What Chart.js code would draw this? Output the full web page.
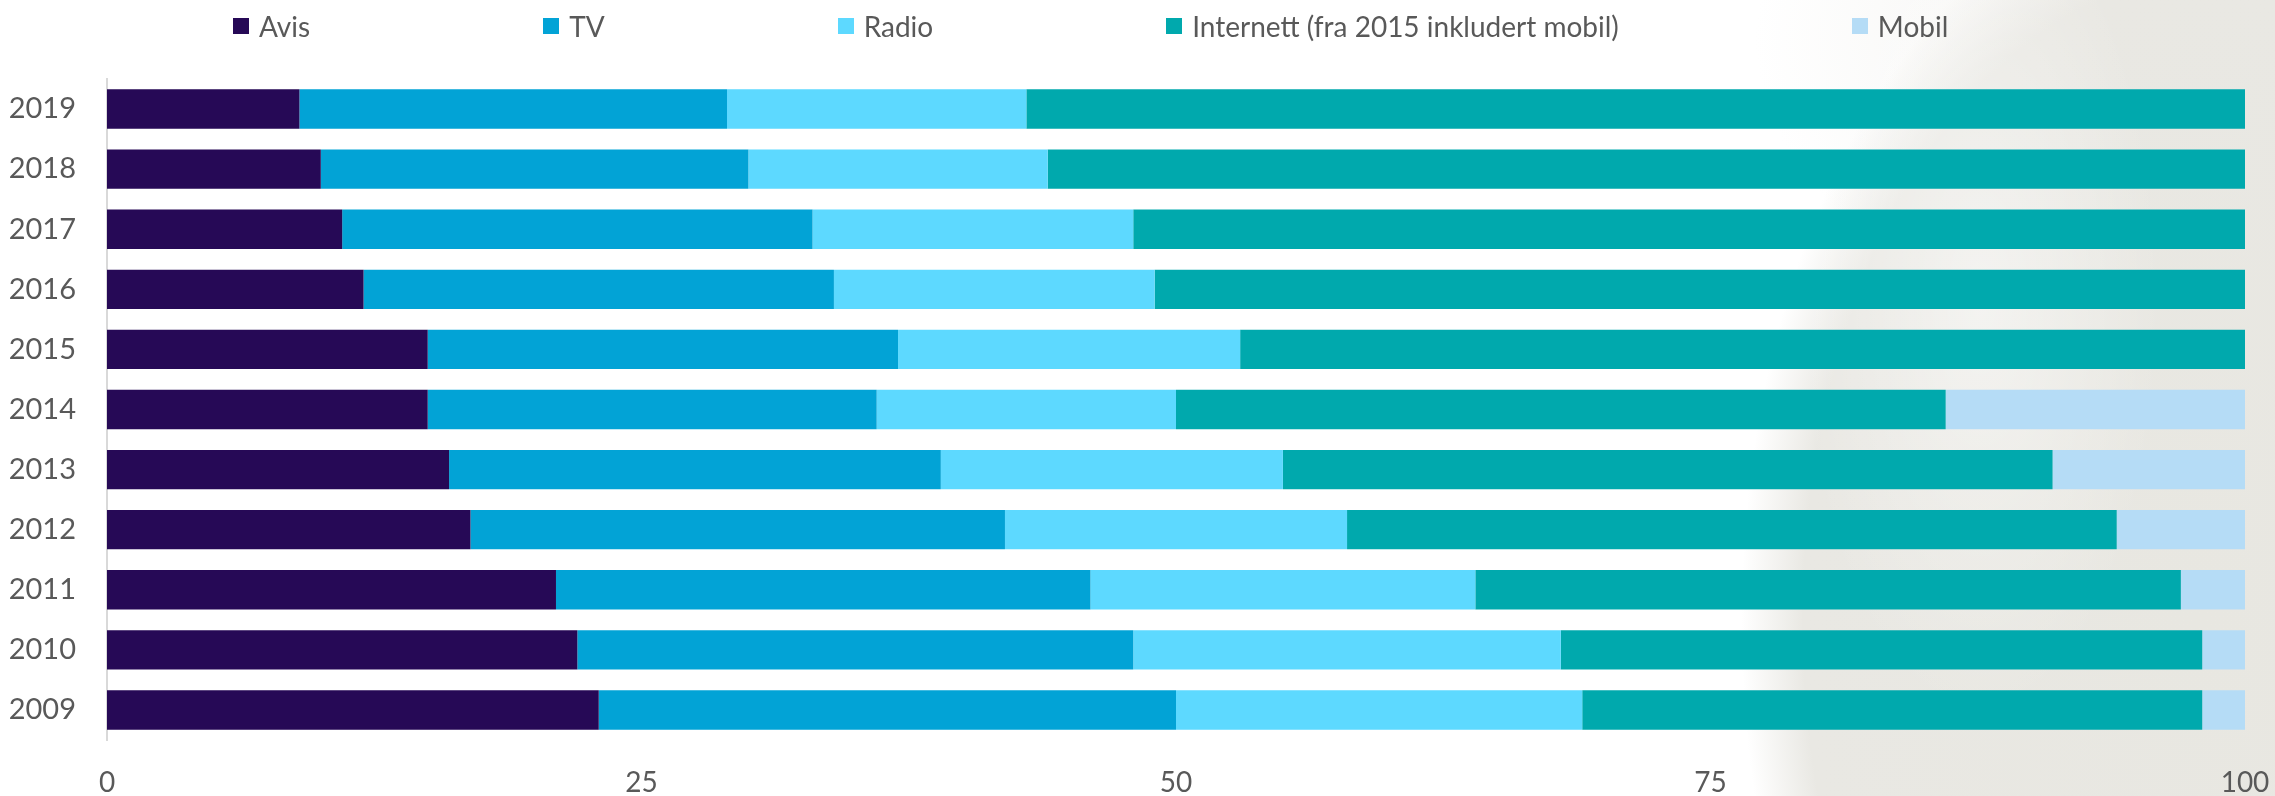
<!DOCTYPE html>
<html>
<head>
<meta charset="utf-8">
<script src="https://cdn.jsdelivr.net/npm/chart.js@4.4.1/dist/chart.umd.min.js"></script>
<style>
  html, body {
    margin: 0;
    padding: 0;
    width: 2275px;
    height: 796px;
    overflow: hidden;
    background: #ffffff;
  }
  #wrap {
    position: relative;
    width: 2275px;
    height: 796px;
    /* faint slide decoration on the right */
    background:
      radial-gradient(ellipse 260px 600px at 1980px 300px, rgba(255,255,255,0.5) 0%, rgba(255,255,255,0) 70%),
      radial-gradient(ellipse 620px 1000px at 2200px 620px, #e8e7e1 0%, #e9e8e3 64%, rgba(255,255,255,0) 74%),
      radial-gradient(ellipse 520px 320px at 2275px 40px, #eeede9 0%, rgba(255,255,255,0) 100%);
  }
  #legend {
    position: absolute;
    top: 0;
    left: 0;
    height: 52px;
    display: flex;
    align-items: center;
    padding-left: 233px;
    font-family: Lato, "Open Sans", sans-serif;
    font-size: 28px;
    color: #595959;
  }
  #legend .item {
    display: flex;
    align-items: center;
    margin-right: 233px;
    white-space: nowrap;
  }
  #legend .box {
    width: 16px;
    height: 16px;
    margin-right: 10px;
  }
</style>
</head>
<body>
<div id="wrap">
  <div id="legend"></div>
  <canvas id="mediaChart" width="2275" height="796"></canvas>
</div>
<script>
// share of time per medium, per year (percent)
const years = ["2009", "2010", "2011", "2012", "2013", "2014", "2015", "2016", "2017", "2018", "2019"];
const avis = [23, 22, 21, 17, 16, 15, 15, 12, 11, 10, 9];
const tv = [27, 26, 25, 25, 23, 21, 22, 22, 22, 20, 20];
const radio = [19, 20, 18, 16, 16, 14, 16, 15, 15, 14, 14];
const internett = [29, 30, 33, 36, 36, 36, 47, 51, 52, 56, 57];
const mobil = [2, 2, 3, 6, 9, 14, null, null, null, null, null];
const xTicks = [0, 25, 50, 75, 100];

const textColor = "#595959";
const fontFamily = "Lato, 'Open Sans', sans-serif";

const htmlLegend = {
  id: "htmlLegend",
  afterUpdate(chart) {
    const box = document.getElementById("legend");
    box.innerHTML = "";
    const items = chart.options.plugins.legend.labels.generateLabels(chart);
    items.forEach((it) => {
      const el = document.createElement("div");
      el.className = "item";
      const sw = document.createElement("span");
      sw.className = "box";
      sw.style.background = it.fillStyle;
      const txt = document.createElement("span");
      txt.textContent = it.text;
      el.appendChild(sw);
      el.appendChild(txt);
      box.appendChild(el);
    });
  },
};

const makeSet = (label, values, color) => ({
  label: label,
  data: values,
  backgroundColor: color,
  borderWidth: 0,
  barPercentage: 0.655,
  categoryPercentage: 1,
});

const data = {
  labels: years,
  datasets: [
    makeSet("Avis", avis, "#260956"),
    makeSet("TV", tv, "#02a3d6"),
    makeSet("Radio", radio, "#5dd9ff"),
    makeSet("Internett (fra 2015 inkludert mobil)", internett, "#00a9ad"),
    makeSet("Mobil", mobil, "#b5dcf6"),
  ],
};

const options = {
  indexAxis: "y",
  responsive: false,
  animation: false,
  layout: {
    padding: { top: 79, right: 30, left: 0, bottom: 0 },
  },
  plugins: {
    legend: { display: false },
    tooltip: { enabled: false },
  },
  scales: {
    x: {
      stacked: true,
      min: 0,
      max: 100,
      afterBuildTicks: (scale) => {
        scale.ticks = xTicks.map((v) => ({ value: v }));
      },
      afterFit: (scale) => {
        scale.height = 56;
        scale.paddingLeft = 0;
        scale.paddingRight = 0;
      },
      grid: { display: false, drawTicks: false },
      border: { display: false },
      ticks: {
        padding: 26,
        color: textColor,
        font: { family: fontFamily, size: 28 },
      },
    },
    y: {
      stacked: true,
      reverse: true,
      afterFit: (scale) => {
        scale.width = 107;
      },
      grid: { display: false, drawTicks: false },
      border: { display: true, color: "#d9d9d9", width: 2 },
      ticks: {
        padding: 31,
        color: textColor,
        font: { family: fontFamily, size: 29 },
      },
    },
  },
};

const chart = new Chart(document.getElementById("mediaChart"), {
  type: "bar",
  data: data,
  options: options,
  plugins: [htmlLegend],
});
</script>
</body>
</html>
